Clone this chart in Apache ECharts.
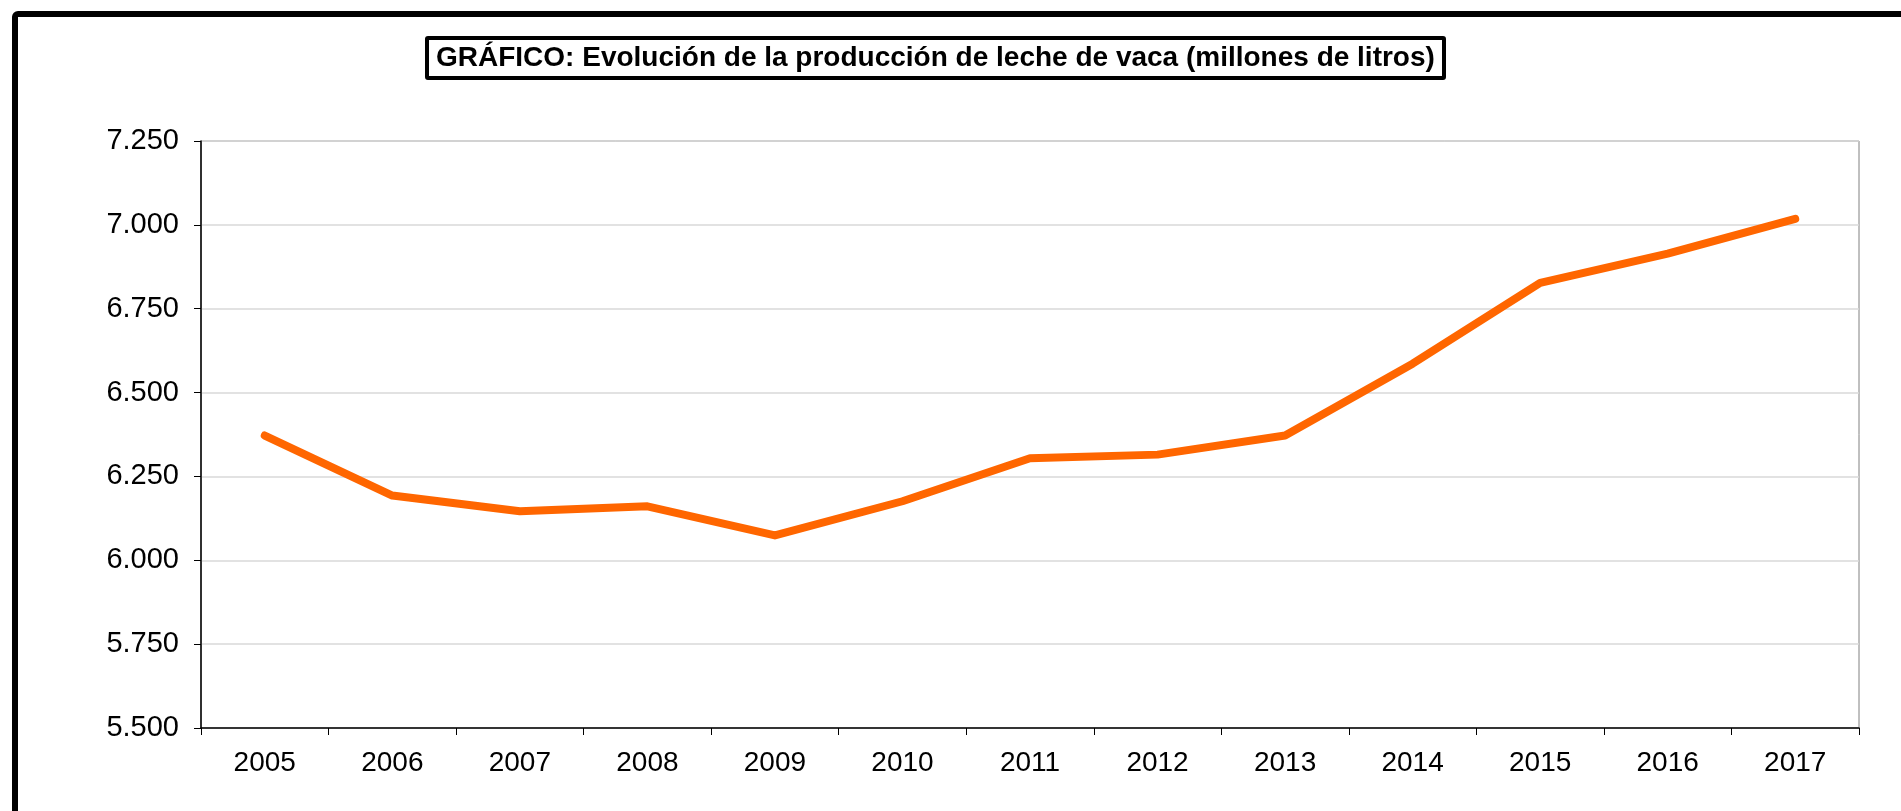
<!DOCTYPE html>
<html>
<head>
<meta charset="utf-8">
<title>Producción de leche de vaca</title>
<script src="https://cdn.jsdelivr.net/npm/echarts@6/dist/echarts.min.js"></script>
<style>
  html, body { margin: 0; padding: 0; background: #ffffff; }
  #chart { width: 1901px; height: 811px; }
</style>
</head>
<body>
<div id="chart"></div>
<script>
// Años de la serie
const years = ['2005', '2006', '2007', '2008', '2009', '2010', '2011',
               '2012', '2013', '2014', '2015', '2016', '2017'];
// Producción de leche de vaca, millones de litros
const production = [6372, 6193, 6146, 6161, 6074, 6176, 6304,
                    6315, 6372, 6586, 6827, 6914, 7018];
// Escala del eje vertical
const yMin = 5500;
const yMax = 7250;
const yStep = 250;
const chartTitle = 'GRÁFICO: Evolución de la producción de leche de vaca (millones de litros)';

// Separador de miles al estilo español: 7250 -> "7.250"
function fmtMiles(v) {
  return String(Math.round(v)).replace(/\B(?=(\d{3})+(?!\d))/g, '.');
}

const chart = echarts.init(document.getElementById('chart'), null, { renderer: 'canvas' });

chart.setOption({
  animation: false,
  backgroundColor: '#ffffff',
  textStyle: { fontFamily: 'Liberation Sans, Arial, sans-serif' },
  graphic: [
    {
      // marco exterior grueso
      type: 'rect',
      left: 12, top: 11,
      shape: { width: 1920, height: 840, r: 3 },
      style: { fill: 'none', stroke: '#000000', lineWidth: 6 },
      silent: true,
      z: 100
    }
  ],
  title: {
    text: chartTitle,
    left: 427,
    top: 38,
    padding: [5, 9, 4, 9],
    borderColor: '#000000',
    borderWidth: 4,
    borderRadius: 1,
    textStyle: {
      fontFamily: 'Liberation Sans, Arial, sans-serif',
      fontWeight: 'bold',
      fontSize: 28,
      lineHeight: 31,
      color: '#000000'
    }
  },
  grid: {
    left: 201,
    right: 42,
    top: 141,
    bottom: 83,
    show: true,
    borderColor: '#808080',
    borderWidth: 1,
    backgroundColor: 'transparent',
    containLabel: false
  },
  xAxis: {
    type: 'category',
    data: years,
    boundaryGap: true,
    axisLine: { show: true, lineStyle: { color: '#000000', width: 1.5 } },
    axisTick: { show: true, alignWithLabel: false, length: 7, lineStyle: { color: '#000000', width: 1 } },
    axisLabel: {
      margin: 21,
      fontSize: 28,
      color: '#000000',
      fontFamily: 'Liberation Sans, Arial, sans-serif'
    },
    splitLine: { show: false }
  },
  yAxis: {
    type: 'value',
    min: yMin,
    max: yMax,
    interval: yStep,
    axisLine: { show: true, lineStyle: { color: '#000000', width: 1.5 } },
    axisTick: { show: true, length: 7, lineStyle: { color: '#000000', width: 1 } },
    axisLabel: {
      margin: 22,
      fontSize: 29,
      color: '#000000',
      fontFamily: 'Liberation Sans, Arial, sans-serif',
      formatter: fmtMiles
    },
    splitLine: { show: true, lineStyle: { color: '#d9d9d9', width: 1.5 } }
  },
  series: [
    {
      type: 'line',
      data: production,
      showSymbol: false,
      symbol: 'none',
      lineStyle: { color: '#ff6600', width: 8, cap: 'round', join: 'round' },
      itemStyle: { color: '#ff6600' }
    }
  ]
});
</script>
</body>
</html>
